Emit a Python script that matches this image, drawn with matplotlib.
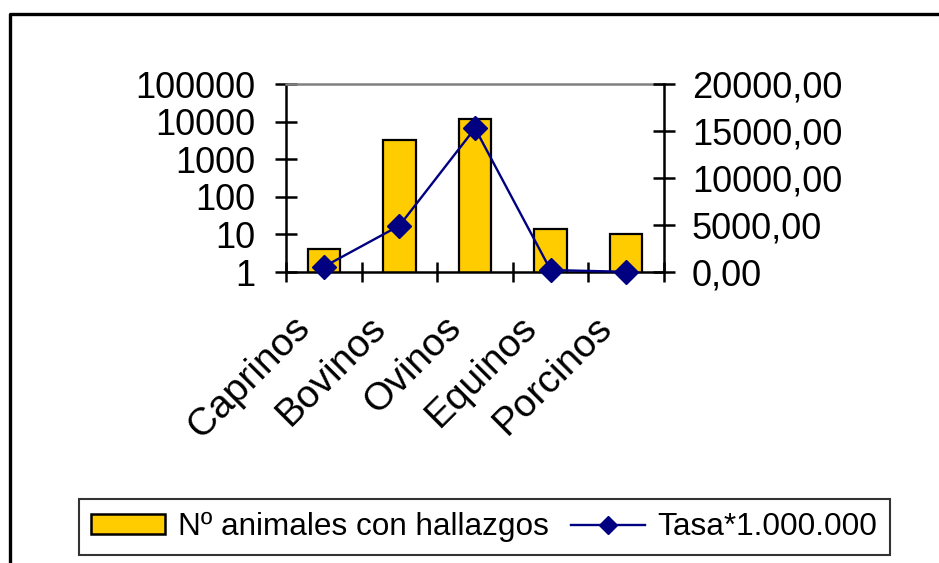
import numpy as np
import matplotlib.pyplot as plt
from matplotlib.lines import Line2D
from matplotlib.patches import Patch
from matplotlib.transforms import ScaledTranslation

# data
categorias = ['Caprinos', 'Bovinos', 'Ovinos', 'Equinos', 'Porcinos']
n_animales = [4, 3300, 11500, 14, 10]
tasa = [560, 4930, 15290, 210, 20]

left_ticks = [1, 10, 100, 1000, 10000, 100000]
right_ticks = [0, 5000, 10000, 15000, 20000]

bar_color = '#FFCC00'
line_color = '#000080'

plt.rcParams['font.family'] = ['Liberation Sans', 'DejaVu Sans']

fig = plt.figure(figsize=(9.39, 5.63), dpi=100)
ax = fig.add_axes([286 / 939, 1 - 272 / 563, 378 / 939, 188 / 563])

x = np.arange(len(categorias))
ax.bar(x, n_animales, width=0.43, color=bar_color, edgecolor='black', linewidth=1.6)
ax.set_yscale('log')
ax.set_ylim(1, 100000)
ax.set_xlim(-0.5, len(categorias) - 0.5)
ax.set_yticks(left_ticks)
ax.set_yticklabels([str(v) for v in left_ticks])
ax.yaxis.set_minor_locator(plt.NullLocator())

ax.set_xticks(x)
ax.set_xticklabels(categorias, rotation=45, ha='right', va='top', rotation_mode='anchor')
ax.set_xticks(np.arange(-0.5, len(categorias)), minor=True)
ax.tick_params(axis='x', which='major', length=0, pad=0, labelsize=28)
ax.tick_params(axis='x', which='minor', direction='inout', length=15, width=1.8)
ax.tick_params(axis='y', which='major', direction='inout', length=16, width=1.8, pad=14, labelsize=26)

# shift rotated category labels down-left like the reference
offset = ScaledTranslation(-23 / 72, -27 / 72, fig.dpi_scale_trans)
for lbl in ax.get_xticklabels():
    lbl.set_transform(lbl.get_transform() + offset)

for side in ['left', 'bottom']:
    ax.spines[side].set_linewidth(1.8)
ax.spines['top'].set_color('#808080')
ax.spines['top'].set_linewidth(1.8)
ax.spines['right'].set_visible(False)

ax2 = ax.twinx()
ax2.plot(x, tasa, color=line_color, linewidth=1.7, marker='D', markersize=12, clip_on=False)
ax2.set_ylim(0, 20000)
ax2.set_yticks(right_ticks)
ax2.set_yticklabels([f'{v},00' for v in right_ticks])
ax2.tick_params(axis='y', direction='inout', length=16, width=1.8, pad=12, labelsize=26)
ax2.spines['right'].set_linewidth(1.8)
for side in ['top', 'left', 'bottom']:
    ax2.spines[side].set_visible(False)

handles = [Patch(facecolor=bar_color, edgecolor='black', linewidth=1.8),
           Line2D([], [], color=line_color, linewidth=1.7, marker='D', markersize=9)]
leg = fig.legend(handles, ['Nº animales con hallazgos', 'Tasa*1.000.000'],
                 loc='center', bbox_to_anchor=(484.5 / 939, 1 - 527 / 563), ncol=2,
                 fontsize=22.7, frameon=True, fancybox=False, handlelength=2.35,
                 handleheight=0.6, handletextpad=0.4, columnspacing=0.7, borderpad=0.4,
                 borderaxespad=0)
leg.get_frame().set_edgecolor('black')
leg.get_frame().set_linewidth(1.5)

# outer chart frame (only left and top edges fall inside the picture)
fig.add_artist(Line2D([10 / 939, 10 / 939, 1.0], [0.0, 1 - 14 / 563, 1 - 14 / 563],
                      transform=fig.transFigure, color='black', linewidth=2.4))

fig.savefig('out.png', dpi=100)
